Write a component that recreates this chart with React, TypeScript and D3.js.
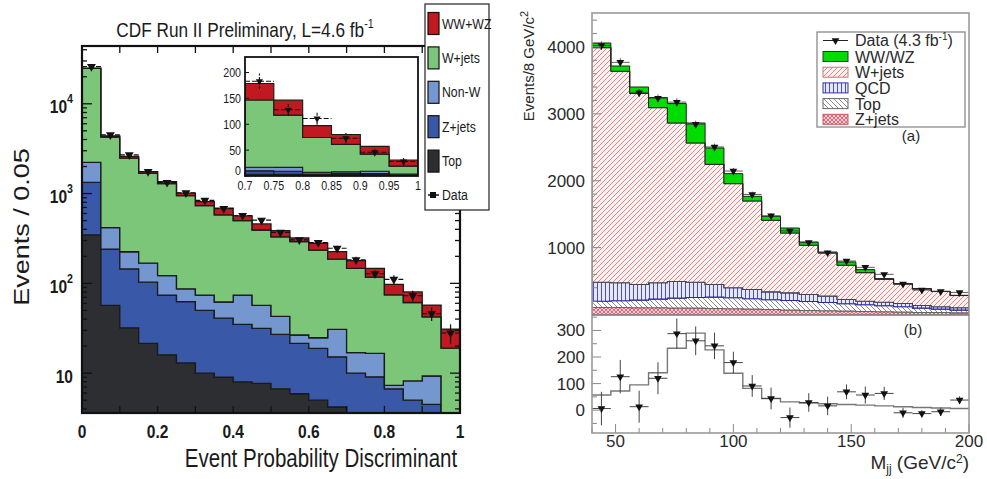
import React from 'react';
import * as d3 from 'd3';

const W = 987, H = 479;

// ---------- left panel: event probability discriminant ----------
const discBins = [0, 0.05, 0.1, 0.15, 0.2, 0.25, 0.3, 0.35, 0.4, 0.45, 0.5, 0.55, 0.6, 0.65, 0.7, 0.75, 0.8, 0.85, 0.9, 0.95];
const discWidth = 0.05;
const procL = ['Top', 'Z+jets', 'Non-W', 'W+jets', 'WW+WZ'];
const colorsL = ['#2d2e32', '#3a58a8', '#7597d0', '#7cc679', '#c01a20'];
const topL = [347, 57, 32, 21.5, 16, 13, 10, 9, 8, 7.7, 6.7, 5.9, 5, 4.2, 3.5, 3.2, 3, 3, 3, 2.5];
const zjetsL = [983, 184, 113, 81.5, 58, 49.5, 40, 32, 27, 23.8, 20.3, 15.6, 13.9, 11, 6.5, 5.9, 3.7, 2, 1.5, 0.7];
const nonWL = [890, 177, 80, 65, 48, 24.5, 24, 21, 39, 25.5, 16, 5.1, 5.9, 15.6, 6.9, 7.5, 0.6, 3.2, 4.8, 0.4];
const wjetsL = [22580, 3832, 2255, 1512, 1168, 863, 661, 518, 426, 336, 286, 265, 210, 155, 130, 101, 67, 53, 33, 15.4];
const wwL = [200, 150, 110, 80, 70, 60, 80, 107, 64, 66, 58, 29, 45, 40, 32, 29, 23, 19, 15, 12];
const dataL = [26000, 4500, 2700, 1760, 1330, 1020, 840, 680, 570, 505, 370, 305, 285, 246, 183, 128, 111, 73, 46, 28];
const dataErrL = [170, 70, 55, 44, 38, 34, 31, 28, 25, 24, 20, 18, 18, 17, 15, 12, 12, 10, 8, 7];
const insetFirst = 14; // inset shows bins from 0.7 upwards

// ---------- right panel: dijet mass ----------
const massBins = [40, 48, 56, 64, 72, 80, 88, 96, 104, 112, 120, 128, 136, 144, 152, 160, 168, 176, 184, 192];
const massWidth = 8;
const procR = ['Z+jets', 'Top', 'QCD', 'W+jets', 'WW/WZ'];
const zjR = [105, 105, 100, 100, 95, 95, 90, 85, 80, 75, 65, 60, 55, 50, 45, 40, 35, 30, 30, 25];
const topR = [94, 100, 115, 130, 150, 160, 170, 165, 155, 145, 145, 135, 125, 110, 100, 90, 80, 65, 50, 40];
const qcdR = [284, 269, 234, 244, 248, 228, 189, 149, 139, 119, 114, 104, 94, 64, 54, 54, 49, 40, 35, 35];
const wjR = [3507, 3162, 2854, 2619, 2370, 2081, 1796, 1558, 1323, 1069, 894, 736, 645, 512, 427, 342, 292, 247, 228, 183];
const wwR = [69, 79, 98, 150, 290, 299, 244, 149, 70, 60, 75, 49, 15, 49, 45, 11, 6, 5, 4, 4];
const dataR = [4020, 3770, 3315, 3235, 3175, 2845, 2505, 2145, 1795, 1475, 1250, 1075, 925, 800, 705, 600, 455, 365, 345, 330];
const fitR = [57, 72, 95, 141, 233, 290, 227, 139, 82, 44, 31, 27, 24, 21, 19, 16, 13, 10, 8, 6];
const diffR = [6, 126, 13, 120, 288, 261, 242, 179, 91, 44, -28, 29, 16, 69, 57, 63, -10, -13, -6, 38];
const diffErrR = [63, 63, 60, 60, 57, 54, 50, 41, 41, 41, 38, 35, 35, 28, 32, 25, 19, 13, 16, 14];

const fillsR = ['url(#hZ)', 'url(#hT)', 'url(#hQ)', 'url(#hW)', '#00dc00'];
const strokesR = ['#c04a5a', '#666', '#2a2a9a', '#444', '#222'];
const legendR = [
  { label: 'WW/WZ', fill: '#00dc00', stroke: '#333' },
  { label: 'W+jets', fill: 'url(#hW)', stroke: '#c77' },
  { label: 'QCD', fill: 'url(#hQ)', stroke: '#339' },
  { label: 'Top', fill: 'url(#hT)', stroke: '#666' },
  { label: 'Z+jets', fill: 'url(#hZ)', stroke: '#c55' },
];

const SX = 0.82; // the left figure is horizontally squeezed

function histArea(layer: any[], lo: number[], w: number, x: any, y: any, floor = -Infinity) {
  const pts = layer.flatMap((d: any, i: number) => [
    { x: lo[i], a: d[0], b: d[1] },
    { x: lo[i] + w, a: d[0], b: d[1] },
  ]);
  return d3.area<any>()
    .x(p => x(p.x))
    .y0(p => y(Math.max(p.a, floor)))
    .y1(p => y(Math.max(p.b, floor)))(pts);
}

function stepLine(vals: number[], lo: number[], w: number, x: any, y: any) {
  const pts = lo.flatMap((l, i) => [[l, vals[i]], [l + w, vals[i]]]);
  return d3.line().x(d => x(d[0])).y(d => y(d[1]))(pts as any);
}

const triDown = (size: number) => d3.symbol(d3.symbolTriangle, size)();

const NT = ({ x, y, s = SX, children, ...rest }: any) => (
  <text transform={`translate(${x},${y}) scale(${s},1)`} {...rest}>{children}</text>
);

function LeftPanel() {
  const F = { x0: 82, x1: 460, y0: 46, y1: 413 };
  const xL = d3.scaleLinear().domain([0, 1]).range([F.x0, F.x1]);
  const yMin = 3.6;
  const yL = d3.scaleLog().domain([yMin, 44000]).range([F.y1, F.y0]);
  const rows = discBins.map((_, i) => ({
    'Top': topL[i], 'Z+jets': zjetsL[i], 'Non-W': nonWL[i], 'W+jets': wjetsL[i], 'WW+WZ': wwL[i],
  }));
  const stack = d3.stack<any>().keys(procL)(rows);

  // inset
  const I = { x0: 245, x1: 418, y0: 57, y1: 176 };
  const xI = d3.scaleLinear().domain([0.7, 1]).range([I.x0, I.x1]);
  const yI = d3.scaleLinear().domain([0, 230]).range([I.y1, I.y0]);
  const loI = discBins.slice(insetFirst);

  const logTicks = yL.ticks();
  const isMajor = (t: number) => Math.abs(Math.log10(t) - Math.round(Math.log10(t))) < 1e-6;
  const tri = triDown(34);
  const triS = triDown(22);

  return (
    <g>
      <clipPath id="clipL"><rect x={F.x0} y={F.y0} width={F.x1 - F.x0} height={F.y1 - F.y0} /></clipPath>
      <g clipPath="url(#clipL)">
        {stack.map((layer, k) => (
          <path key={k} d={histArea(layer, discBins, discWidth, xL, yL, yMin) || ''}
            fill={colorsL[k]} stroke="#1a1a1a" strokeWidth={1.3} strokeLinejoin="miter" />
        ))}
        {dataL.map((v, i) => {
          const cx = xL(discBins[i] + discWidth / 2);
          return (
            <g key={i} stroke="#111" strokeWidth={1.2}>
              <line x1={xL(discBins[i])} x2={xL(discBins[i] + discWidth)} y1={yL(v)} y2={yL(v)} strokeDasharray="5,2" />
              <line x1={cx} x2={cx} y1={yL(v - dataErrL[i])} y2={yL(v + dataErrL[i])} />
              <path d={tri || ''} transform={`translate(${cx},${yL(v)}) rotate(180)`} fill="#111" stroke="none" />
            </g>
          );
        })}
      </g>
      {/* axes ticks */}
      <g stroke="#111" strokeWidth={1.3}>
        {logTicks.map((t, i) => {
          const len = isMajor(t) ? 10 : 5;
          return (
            <g key={i}>
              <line x1={F.x0} x2={F.x0 + len} y1={yL(t)} y2={yL(t)} />
              <line x1={F.x1} x2={F.x1 - len} y1={yL(t)} y2={yL(t)} />
            </g>
          );
        })}
        {xL.ticks(10).map((t, i) => (
          <g key={i}>
            <line x1={xL(t)} x2={xL(t)} y1={F.y0} y2={F.y0 + 7} />
            <line x1={xL(t)} x2={xL(t)} y1={F.y1} y2={F.y1 - 7} />
          </g>
        ))}
      </g>
      <rect x={F.x0} y={F.y0} width={F.x1 - F.x0} height={F.y1 - F.y0} fill="none" stroke="#111" strokeWidth={2.2} />
      {/* tick labels */}
      {logTicks.filter(isMajor).map((t, i) => {
        const p = Math.round(Math.log10(t));
        return (
          <NT key={i} x={73} y={yL(t) + 9.5} textAnchor="end" fontSize={19} fontWeight="bold" fill="#1a1a1a">
            10{p > 1 ? <tspan dy={-10} fontSize={13}>{p}</tspan> : null}
          </NT>
        );
      })}
      {xL.ticks(5).map((t, i) => (
        <NT key={i} x={xL(t)} y={438} textAnchor="middle" fontSize={19} fontWeight="bold" fill="#1a1a1a">
          {String(+t.toFixed(1))}
        </NT>
      ))}
      <NT x={321} y={467} textAnchor="middle" fontSize={25} fill="#1a1a1a">Event Probability Discriminant</NT>
      <text transform={`translate(29,227) scale(${SX},1) rotate(-90)`} textAnchor="middle" fontSize={27} fill="#1a1a1a">Events / 0.05</text>
      <NT x={245} y={37} textAnchor="middle" fontSize={21} fill="#1a1a1a">
        CDF Run II Preliminary, L=4.6 fb<tspan dy={-9} fontSize={13}>-1</tspan>
      </NT>

      {/* inset */}
      <rect x={I.x0} y={I.y0} width={I.x1 - I.x0} height={I.y1 - I.y0} fill="#fff" />
      <clipPath id="clipI"><rect x={I.x0} y={I.y0} width={I.x1 - I.x0} height={I.y1 - I.y0} /></clipPath>
      <g clipPath="url(#clipI)">
        {stack.map((layer, k) => (
          <path key={k} d={histArea(layer.slice(insetFirst), loI, discWidth, xI, yI) || ''}
            fill={colorsL[k]} stroke="#1a1a1a" strokeWidth={1.1} />
        ))}
        {dataL.slice(insetFirst).map((v, j) => {
          const i = j + insetFirst;
          const cx = xI(discBins[i] + discWidth / 2);
          return (
            <g key={i} stroke="#111" strokeWidth={1.1}>
              <line x1={xI(discBins[i])} x2={xI(discBins[i] + discWidth)} y1={yI(v)} y2={yI(v)} strokeDasharray="5,2" />
              <line x1={cx} x2={cx} y1={yI(v - dataErrL[i])} y2={yI(v + dataErrL[i])} strokeDasharray="3,1.5" />
              <path d={triS || ''} transform={`translate(${cx},${yI(v)}) rotate(180)`} fill="#111" stroke="none" />
            </g>
          );
        })}
      </g>
      <g stroke="#111" strokeWidth={1}>
        {[0, 50, 100, 150, 200].map(t => (
          <line key={t} x1={I.x0} x2={I.x0 + 4} y1={yI(t)} y2={yI(t)} />
        ))}
        {loI.map(t => (
          <line key={t} x1={xI(t)} x2={xI(t)} y1={I.y1} y2={I.y1 - 4} />
        ))}
      </g>
      <rect x={I.x0} y={I.y0} width={I.x1 - I.x0} height={I.y1 - I.y0} fill="none" stroke="#111" strokeWidth={1.8} />
      {[0, 50, 100, 150, 200].map(t => (
        <NT key={t} x={241} y={t === 0 ? 175 : yI(t) + 4.5} textAnchor="end" fontSize={13} fill="#1a1a1a">{t}</NT>
      ))}
      {[...loI, 1].map(t => (
        <NT key={t} x={xI(t)} y={190} textAnchor="middle" fontSize={13} fill="#1a1a1a">{String(+t.toFixed(2))}</NT>
      ))}

      {/* legend */}
      <rect x={425} y={4} width={64} height={206} fill="#fff" stroke="#222" strokeWidth={1.2} />
      {procL.slice().reverse().map((p, k) => {
        const cy = 23.5 + k * 34.4;
        return (
          <g key={p}>
            <rect x={428} y={cy - 11} width={11} height={22} fill={colorsL[procL.length - 1 - k]} stroke="#111" strokeWidth={1.2} />
            <NT x={442} y={cy + 5} fontSize={15} fill="#1a1a1a">{p}</NT>
          </g>
        );
      })}
      <line x1={428} x2={439} y1={195} y2={195} stroke="#111" strokeWidth={1.5} />
      <rect x={430} y={192} width={6} height={6} fill="#111" />
      <NT x={442} y={200} fontSize={15} fill="#1a1a1a">Data</NT>
    </g>
  );
}

function RightPanel() {
  const F = { x0: 592, x1: 969, y0: 13, ym: 314.5, y1: 433 };
  const xR = d3.scaleLinear().domain([40, 200]).range([F.x0, F.x1]);
  const yT = d3.scaleLinear().domain([0, 4500]).range([F.ym, 13.5]);
  const yB = d3.scaleLinear().domain([-86, 360]).range([F.y1, F.ym]);
  const rows = massBins.map((_, i) => ({
    'Z+jets': zjR[i], 'Top': topR[i], 'QCD': qcdR[i], 'W+jets': wjR[i], 'WW/WZ': wwR[i],
  }));
  const stack = d3.stack<any>().keys(procR)(rows);
  const tri = triDown(26);
  const txt = '#2a2a2a';

  return (
    <g fontFamily="'Liberation Sans', Arial, Helvetica, sans-serif">
      <clipPath id="clipRT"><rect x={F.x0} y={F.y0} width={F.x1 - F.x0} height={F.ym - F.y0} /></clipPath>
      <g clipPath="url(#clipRT)">
        {stack.map((layer, k) => (
          <path key={k} d={histArea(layer, massBins, massWidth, xR, yT) || ''}
            fill={fillsR[k]} stroke={strokesR[k]} strokeWidth={k === 4 ? 1 : 1.1} />
        ))}
        {dataR.map((v, i) => {
          const cx = xR(massBins[i] + massWidth / 2);
          return (
            <g key={i}>
              <line x1={xR(massBins[i])} x2={xR(massBins[i] + massWidth)} y1={yT(v)} y2={yT(v)} stroke="#333" strokeWidth={0.8} />
              <line x1={cx} x2={cx} y1={yT(v - Math.sqrt(v))} y2={yT(v + Math.sqrt(v))} stroke="#333" strokeWidth={0.8} />
              <path d={tri || ''} transform={`translate(${cx},${yT(v)}) rotate(180)`} fill="#111" />
            </g>
          );
        })}
      </g>
      {/* lower panel */}
      <path d={stepLine(fitR, massBins, massWidth, xR, yB) || ''} fill="none" stroke="#777" strokeWidth={1.4} />
      {diffR.map((v, i) => {
        const cx = xR(massBins[i] + massWidth / 2);
        return (
          <g key={i} stroke="#444" strokeWidth={1}>
            <line x1={xR(massBins[i])} x2={xR(massBins[i] + massWidth)} y1={yB(v)} y2={yB(v)} />
            <line x1={cx} x2={cx} y1={yB(v - diffErrR[i])} y2={yB(v + diffErrR[i])} />
            <path d={tri || ''} transform={`translate(${cx},${yB(v)}) rotate(180)`} fill="#111" stroke="none" />
          </g>
        );
      })}
      {/* ticks */}
      <g stroke="#888" strokeWidth={1}>
        {d3.range(200, 4500, 200).map(t => (
          <line key={t} x1={F.x0} x2={F.x0 + (t % 1000 === 0 ? 9 : 5)} y1={yT(t)} y2={yT(t)} />
        ))}
        {d3.range(-50, 360, 50).map(t => (
          <line key={t} x1={F.x0} x2={F.x0 + (t % 100 === 0 ? 9 : 5)} y1={yB(t)} y2={yB(t)} />
        ))}
        {d3.range(40, 201, 10).map(t => (
          <line key={t} x1={xR(t)} x2={xR(t)} y1={F.y1} y2={F.y1 - (t % 50 === 0 ? 9 : 5)} />
        ))}
      </g>
      <rect x={F.x0} y={F.y0} width={F.x1 - F.x0} height={F.y1 - F.y0} fill="none" stroke="#9a9a9a" strokeWidth={1.6} />
      <line x1={F.x0} x2={F.x1} y1={F.ym + 0.5} y2={F.ym + 0.5} stroke="#777" strokeWidth={1.4} />
      {[1000, 2000, 3000, 4000].map(t => (
        <text key={t} x={585} y={yT(t) + 6} textAnchor="end" fontSize={17} fill={txt}>{t}</text>
      ))}
      {[0, 100, 200, 300].map(t => (
        <text key={t} x={585} y={yB(t) + 6} textAnchor="end" fontSize={17} fill={txt}>{t}</text>
      ))}
      {[50, 100, 150, 200].map(t => (
        <text key={t} x={xR(t)} y={447} textAnchor="middle" fontSize={17} fill={txt}>{t}</text>
      ))}
      <text x={969} y={469} textAnchor="end" fontSize={19} fill={txt}>
        M<tspan dy={4} fontSize={12}>jj</tspan><tspan dy={-4}> (GeV/c</tspan><tspan dy={-6} fontSize={12}>2</tspan><tspan dy={6}>)</tspan>
      </text>
      <text transform="translate(534,66) rotate(-90)" textAnchor="middle" fontSize={15} fill={txt}>
        Events/8 GeV/c<tspan dy={-6} fontSize={11}>2</tspan>
      </text>
      <text x={911} y={141} textAnchor="middle" fontSize={15} fill={txt}>(a)</text>
      <text x={913} y={335} textAnchor="middle" fontSize={15} fill={txt}>(b)</text>

      {/* legend */}
      <rect x={817} y={32} width={148} height={95} fill="#fff" stroke="#8a8a8a" strokeWidth={1.3} />
      <line x1={823} x2={848} y1={40.5} y2={40.5} stroke="#222" strokeWidth={1} />
      <path d={tri || ''} transform="translate(835.5,40.5) rotate(180)" fill="#111" />
      <text x={855} y={46} fontSize={16} fill={txt}>
        Data (4.3 fb<tspan dy={-6} fontSize={10}>-1</tspan><tspan dy={6}>)</tspan>
      </text>
      {legendR.map((e, k) => {
        const cy = 56.5 + k * 15.7;
        return (
          <g key={e.label}>
            <rect x={823} y={cy - 5} width={25} height={10} fill={e.fill} stroke={e.stroke} strokeWidth={1} />
            <text x={855} y={cy + 6} fontSize={16} fill={txt}>{e.label}</text>
          </g>
        );
      })}
    </g>
  );
}

export default function App() {
  return (
    <svg width={W} height={H} style={{ position: 'absolute', left: 0, top: 0, background: '#fff' }}
      fontFamily="'Liberation Sans', Arial, Helvetica, sans-serif">
      <defs>
        <pattern id="hW" patternUnits="userSpaceOnUse" width={5} height={5}>
          <rect width={5} height={5} fill="#fdf2f2" />
          <path d="M-1,1 L1,-1 M0,5 L5,0 M4,6 L6,4" stroke="#e38383" strokeWidth={1} />
        </pattern>
        <pattern id="hQ" patternUnits="userSpaceOnUse" width={4} height={4}>
          <rect width={4} height={4} fill="#e6e8ff" />
          <line x1={1.5} x2={1.5} y1={0} y2={4} stroke="#4b4bd6" strokeWidth={1} />
        </pattern>
        <pattern id="hT" patternUnits="userSpaceOnUse" width={5} height={5}>
          <rect width={5} height={5} fill="#fff" />
          <path d="M-1,4 L1,6 M0,0 L5,5 M4,-1 L6,1" stroke="#8a8a8a" strokeWidth={1} />
        </pattern>
        <pattern id="hZ" patternUnits="userSpaceOnUse" width={4} height={4}>
          <rect width={4} height={4} fill="#f8d3da" />
          <path d="M0,0 L4,4 M0,4 L4,0" stroke="#de5a72" strokeWidth={0.9} />
        </pattern>
      </defs>
      <LeftPanel />
      <RightPanel />
    </svg>
  );
}
